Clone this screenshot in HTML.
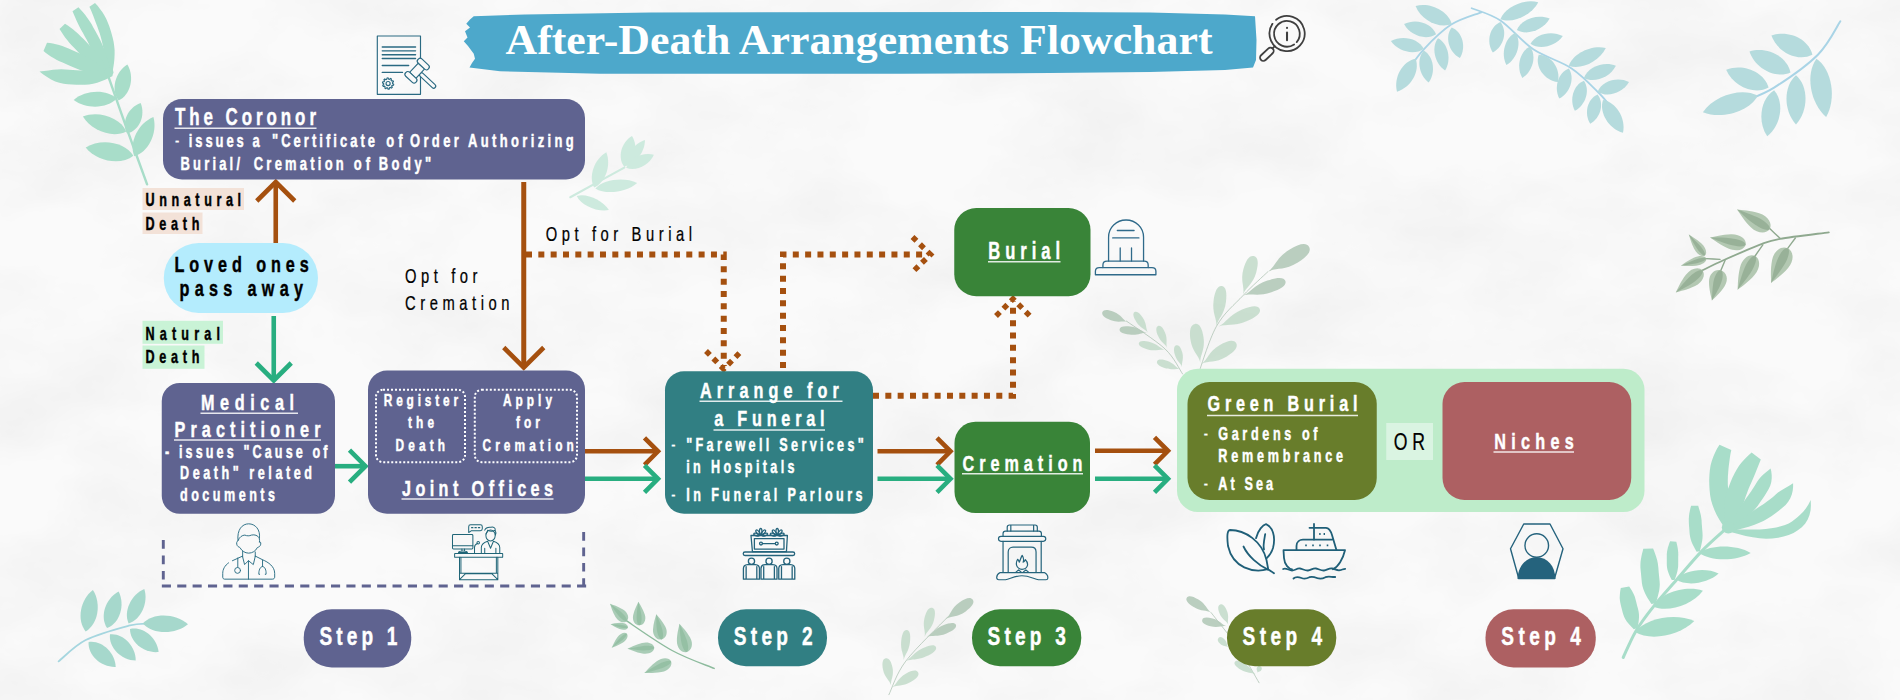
<!DOCTYPE html>
<html><head><meta charset="utf-8"><title>After-Death Arrangements Flowchart</title>
<style>
html,body{margin:0;padding:0;background:#f8f8f8;}
body{width:1900px;height:700px;overflow:hidden;font-family:"Liberation Sans",sans-serif;}
svg{display:block}
text{white-space:pre}
</style></head><body>
<svg width="1900" height="700" viewBox="0 0 1900 700">
<defs><filter id="paper" x="0" y="0" width="100%" height="100%" color-interpolation-filters="sRGB">
<feTurbulence type="fractalNoise" baseFrequency="0.007 0.011" numOctaves="5" seed="11"/>
<feColorMatrix type="matrix" values="0 0 0 0 0.92  0 0 0 0 0.92  0 0 0 0 0.92  1.1 0 0 0 -0.40"/>
</filter></defs>
<rect width="1900" height="700" fill="#fafafa"/>
<rect width="1900" height="700" filter="url(#paper)"/>
<path d="M107.1,72.9 C110.2,81.7 119.0,107.1 125.7,125.7 C132.4,144.3 143.6,174.5 147.1,184.3" fill="none" stroke="#a8ddc9" stroke-width="2.4" stroke-linecap="round" opacity="1.0"/>
<path d="M89.4,6.8 L90.9,10.1 L92.2,13.3 L93.5,16.6 L94.8,19.9 L96.0,23.2 L97.3,26.5 L98.5,29.9 L99.7,33.3 L100.7,36.8 L101.7,40.4 L102.5,44.0 L103.3,47.8 L104.2,51.5 L105.2,55.4 L106.2,59.4 L107.2,63.5 L108.2,67.7 L109.1,72.0 L112.5,72.0 L113.3,67.5 L114.0,63.1 L114.4,58.7 L114.6,54.4 L114.6,50.1 L114.2,45.9 L113.6,41.7 L112.7,37.7 L111.6,33.8 L110.5,29.9 L109.2,26.1 L107.8,22.4 L106.2,18.8 L104.3,15.3 L102.3,12.0 L100.0,8.9 L97.6,5.8 L95.0,3.0 Z" fill="#a8ddc9"/>
<path d="M72.5,11.2 L73.8,14.2 L75.1,17.3 L76.5,20.4 L77.9,23.5 L79.5,26.7 L81.2,29.9 L83.0,33.1 L84.8,36.4 L86.7,39.8 L88.5,43.3 L90.3,46.9 L92.3,50.5 L94.5,54.1 L96.8,57.7 L99.3,61.4 L101.9,65.1 L104.6,68.9 L107.3,72.7 L110.5,71.3 L109.4,66.6 L108.3,62.1 L107.0,57.7 L105.7,53.4 L104.3,49.3 L102.6,45.3 L100.9,41.5 L99.0,37.8 L97.1,34.2 L95.2,30.8 L93.3,27.4 L91.5,24.0 L89.5,20.9 L87.4,17.9 L85.3,15.0 L83.0,12.3 L80.7,9.7 L78.4,7.3 Z" fill="#a8ddc9"/>
<path d="M59.5,29.0 L61.3,31.8 L63.1,34.6 L65.1,37.4 L67.2,40.1 L69.3,42.8 L71.6,45.3 L74.1,47.8 L76.5,50.3 L79.0,52.9 L81.5,55.4 L84.0,58.0 L86.7,60.5 L89.5,62.8 L92.5,65.1 L95.6,67.2 L98.9,69.3 L102.2,71.3 L105.6,73.3 L108.3,70.6 L106.3,67.2 L104.3,63.9 L102.3,60.6 L100.1,57.5 L97.9,54.5 L95.6,51.6 L93.2,49.0 L90.7,46.4 L88.2,43.9 L85.7,41.3 L83.3,38.8 L80.8,36.4 L78.4,34.0 L75.8,31.8 L73.2,29.6 L70.5,27.6 L67.8,25.6 L65.0,23.7 Z" fill="#a8ddc9"/>
<path d="M43.5,51.1 L45.9,52.9 L48.3,54.7 L50.8,56.4 L53.5,58.1 L56.4,59.7 L59.4,61.2 L62.6,62.5 L65.9,64.0 L69.2,65.4 L72.7,67.0 L76.3,68.5 L80.0,70.0 L83.9,71.2 L88.0,72.4 L92.3,73.4 L96.8,74.3 L101.3,75.1 L106.0,76.0 L107.9,71.8 L104.1,68.9 L100.4,66.0 L96.8,63.3 L93.2,60.8 L89.6,58.5 L86.0,56.4 L82.4,54.6 L78.8,53.1 L75.3,51.5 L71.9,50.1 L68.6,48.6 L65.4,47.2 L62.3,46.0 L59.1,45.1 L56.0,44.3 L52.9,43.6 L50.0,43.1 L47.0,42.7 Z" fill="#a8ddc9"/>
<path d="M39.5,71.6 L43.3,74.4 L47.1,77.1 L51.1,79.4 L55.2,81.4 L59.3,82.8 L63.6,83.7 L67.9,84.2 L72.1,84.5 L76.4,84.7 L80.6,84.8 L84.8,84.7 L89.0,84.4 L93.2,83.7 L97.2,82.7 L101.2,81.3 L105.1,79.8 L108.9,78.0 L112.6,76.0 L111.6,71.8 L107.6,71.6 L103.6,71.3 L99.7,71.0 L95.8,70.7 L92.0,70.5 L88.2,70.3 L84.5,70.3 L80.7,70.4 L76.8,70.3 L73.0,70.1 L69.1,69.8 L65.3,69.5 L61.3,69.3 L57.2,69.4 L53.0,69.8 L48.6,70.4 L44.1,71.0 L39.5,71.6 Z" fill="#a8ddc9"/>
<ellipse cx="108.9" cy="72.2" rx="4.5" ry="4.5" fill="#a8ddc9"/>
<path d="M118.6,100.6 C130.5,95.1 134.9,77.1 127.4,64.6 C115.0,72.2 110.5,90.2 118.6,100.6Z" fill="#a8ddc9" opacity="1.0"/>
<path d="M127.1,133.4 C139.2,130.7 145.9,115.4 140.6,102.9 C127.7,107.4 121.0,122.7 127.1,133.4Z" fill="#a8ddc9" opacity="1.0"/>
<path d="M134.3,156.3 C148.4,152.5 157.9,132.9 153.4,117.1 C138.2,123.3 128.6,142.8 134.3,156.3Z" fill="#a8ddc9" opacity="1.0"/>
<path d="M116.6,98.6 C106.8,89.0 85.4,89.7 73.7,100.0 C86.0,109.5 107.5,108.8 116.6,98.6Z" fill="#a8ddc9" opacity="1.0"/>
<path d="M126.3,131.4 C120.3,117.8 98.6,110.3 82.9,116.6 C91.5,131.1 113.2,138.6 126.3,131.4Z" fill="#a8ddc9" opacity="1.0"/>
<path d="M133.4,155.7 C125.0,142.0 101.1,137.9 85.7,147.4 C97.0,161.6 120.9,165.8 133.4,155.7Z" fill="#a8ddc9" opacity="1.0"/>
<path d="M1725.7,528.9 C1721.7,532.6 1709.9,542.6 1701.8,551.1 C1693.6,559.5 1684.8,570.4 1676.8,579.6 C1668.8,588.9 1660.4,597.8 1653.6,606.4 C1646.7,615.1 1640.8,622.9 1635.7,631.4 C1630.7,639.9 1625.3,653.2 1623.2,657.5" fill="none" stroke="#a8ddc9" stroke-width="3" stroke-linecap="round" opacity="1.0"/>
<path d="M1719.5,444.7 L1717.1,448.6 L1715.0,452.7 L1713.2,456.9 L1711.7,461.3 L1710.5,465.8 L1709.8,470.5 L1709.4,475.2 L1709.2,480.0 L1709.3,484.9 L1709.6,489.9 L1710.1,494.9 L1711.0,499.9 L1712.5,505.0 L1714.4,509.9 L1716.7,514.9 L1719.4,519.8 L1722.4,524.6 L1725.7,529.4 L1730.9,527.4 L1730.3,521.9 L1730.0,516.5 L1729.7,511.3 L1729.4,506.3 L1729.2,501.6 L1728.9,497.0 L1728.5,492.6 L1728.1,488.4 L1727.8,484.3 L1727.8,480.2 L1727.9,476.3 L1728.2,472.4 L1728.5,468.6 L1728.9,464.9 L1729.4,461.2 L1729.9,457.4 L1730.5,453.7 L1731.3,450.0 Z" fill="#a8ddc9"/>
<path d="M1751.6,452.5 L1748.3,455.5 L1745.0,458.7 L1742.0,462.1 L1739.2,465.6 L1736.7,469.4 L1734.5,473.4 L1732.5,477.5 L1730.7,481.7 L1729.1,485.9 L1727.5,490.3 L1726.1,494.7 L1725.0,499.2 L1724.4,503.9 L1724.1,508.7 L1724.2,513.5 L1724.7,518.4 L1725.4,523.3 L1726.3,528.1 L1732.0,528.7 L1734.0,524.4 L1736.0,520.1 L1737.9,516.0 L1739.8,512.0 L1741.5,508.1 L1743.1,504.2 L1744.5,500.3 L1745.7,496.5 L1747.1,492.7 L1748.5,488.9 L1750.1,485.3 L1751.7,481.7 L1753.3,478.1 L1754.8,474.5 L1756.3,470.8 L1757.8,467.0 L1759.3,463.2 L1760.8,459.4 Z" fill="#a8ddc9"/>
<path d="M1770.6,468.4 L1768.2,470.5 L1765.7,472.5 L1763.3,474.6 L1761.0,476.8 L1758.9,479.3 L1757.0,482.0 L1755.2,484.9 L1753.3,488.0 L1751.2,491.2 L1748.9,494.4 L1746.5,497.8 L1744.1,501.3 L1741.6,505.1 L1739.1,509.1 L1736.6,513.3 L1734.0,517.7 L1731.3,522.3 L1728.5,527.1 L1731.5,529.8 L1736.0,526.4 L1740.2,523.1 L1744.2,519.7 L1748.0,516.4 L1751.5,512.9 L1754.7,509.5 L1757.6,505.9 L1760.1,502.3 L1762.6,498.8 L1764.8,495.4 L1766.9,492.1 L1768.8,488.8 L1770.3,485.4 L1771.3,482.0 L1771.7,478.5 L1771.7,475.0 L1771.3,471.6 L1770.6,468.4 Z" fill="#a8ddc9"/>
<path d="M1793.1,483.3 L1790.0,485.3 L1787.0,487.0 L1784.0,488.7 L1781.1,490.4 L1778.3,492.3 L1775.7,494.5 L1773.0,496.9 L1770.1,499.2 L1767.0,501.6 L1763.7,504.0 L1760.1,506.3 L1756.3,508.8 L1752.4,511.5 L1748.4,514.4 L1744.1,517.4 L1739.7,520.5 L1735.0,523.7 L1730.0,526.9 L1731.7,530.9 L1737.6,529.7 L1743.2,528.3 L1748.7,526.8 L1753.9,525.1 L1758.8,523.1 L1763.4,520.9 L1767.7,518.5 L1771.7,515.9 L1775.5,513.2 L1779.1,510.5 L1782.4,507.7 L1785.6,504.9 L1788.2,501.8 L1790.3,498.3 L1791.8,494.6 L1792.7,490.8 L1793.1,487.0 L1793.1,483.3 Z" fill="#a8ddc9"/>
<path d="M1810.7,500.1 L1808.4,504.6 L1805.8,508.4 L1803.2,511.7 L1800.4,514.5 L1797.7,517.0 L1794.9,519.3 L1792.0,521.5 L1788.7,523.4 L1785.0,525.0 L1780.8,526.3 L1776.2,527.4 L1771.2,528.2 L1765.7,528.9 L1759.8,529.4 L1753.4,529.6 L1746.4,529.6 L1739.0,529.4 L1731.2,528.8 L1730.5,531.9 L1738.3,534.1 L1745.7,535.9 L1752.8,537.3 L1759.6,538.3 L1766.1,538.7 L1772.3,538.5 L1778.1,537.8 L1783.6,536.6 L1788.7,534.9 L1793.5,532.9 L1797.8,530.3 L1801.8,527.3 L1805.1,523.8 L1807.7,519.6 L1809.5,515.1 L1810.6,510.3 L1810.9,505.3 L1810.7,500.1 Z" fill="#a8ddc9"/>
<ellipse cx="1728.3" cy="527.6" rx="6.5" ry="6" fill="#a8ddc9"/>
<path d="M1691.1,505.8 L1690.4,508.3 L1689.8,510.9 L1689.3,513.5 L1689.0,516.1 L1688.8,518.7 L1688.8,521.3 L1688.9,523.9 L1689.1,526.5 L1689.3,529.1 L1689.5,531.7 L1689.7,534.2 L1690.1,536.8 L1690.8,539.4 L1691.6,541.9 L1692.7,544.4 L1693.9,546.8 L1695.2,549.2 L1696.6,551.7 L1699.8,551.2 L1700.5,548.5 L1701.1,545.9 L1701.7,543.3 L1702.2,540.7 L1702.5,538.1 L1702.6,535.6 L1702.5,533.1 L1702.3,530.6 L1702.1,528.1 L1701.9,525.6 L1701.7,523.1 L1701.6,520.6 L1701.3,518.1 L1700.9,515.6 L1700.3,513.1 L1699.7,510.7 L1698.9,508.2 L1698.2,505.7 Z" fill="#a8ddc9"/>
<path d="M1670.1,541.2 L1669.3,543.3 L1668.6,545.5 L1667.9,547.6 L1667.4,549.8 L1667.0,552.0 L1666.8,554.1 L1666.8,556.3 L1666.8,558.5 L1666.8,560.7 L1666.8,562.9 L1666.8,565.1 L1667.0,567.3 L1667.4,569.5 L1668.0,571.6 L1668.8,573.8 L1669.7,575.9 L1670.7,578.0 L1671.8,580.1 L1674.6,579.9 L1675.4,577.7 L1676.2,575.5 L1676.8,573.4 L1677.4,571.2 L1677.8,569.1 L1678.1,567.0 L1678.2,564.9 L1678.2,562.8 L1678.2,560.7 L1678.2,558.6 L1678.2,556.5 L1678.3,554.4 L1678.2,552.3 L1678.0,550.2 L1677.7,548.1 L1677.3,546.0 L1676.8,543.8 L1676.3,541.7 Z" fill="#a8ddc9"/>
<path d="M1643.3,548.8 L1642.5,551.9 L1641.7,555.1 L1641.1,558.2 L1640.6,561.3 L1640.4,564.5 L1640.4,567.6 L1640.7,570.7 L1641.0,573.8 L1641.3,576.9 L1641.6,580.0 L1641.9,583.2 L1642.5,586.2 L1643.4,589.3 L1644.6,592.3 L1646.0,595.2 L1647.7,598.2 L1649.5,601.0 L1651.4,603.9 L1655.8,603.2 L1656.8,600.0 L1657.7,596.8 L1658.5,593.6 L1659.2,590.4 L1659.6,587.3 L1659.8,584.2 L1659.6,581.2 L1659.3,578.2 L1659.0,575.2 L1658.7,572.2 L1658.5,569.2 L1658.2,566.2 L1657.8,563.2 L1657.2,560.2 L1656.3,557.3 L1655.3,554.3 L1654.2,551.3 L1653.1,548.4 Z" fill="#a8ddc9"/>
<path d="M1620.8,587.9 L1620.3,590.4 L1620.0,592.9 L1619.8,595.4 L1619.7,597.9 L1619.9,600.3 L1620.3,602.7 L1620.8,605.1 L1621.4,607.5 L1622.0,609.8 L1622.6,612.2 L1623.3,614.5 L1624.1,616.8 L1625.2,619.1 L1626.6,621.2 L1628.2,623.3 L1630.0,625.3 L1631.9,627.3 L1633.8,629.2 L1637.6,628.0 L1638.0,625.3 L1638.5,622.6 L1638.8,620.0 L1639.0,617.5 L1639.0,615.1 L1638.8,612.7 L1638.4,610.4 L1637.8,608.1 L1637.2,605.9 L1636.6,603.6 L1636.1,601.4 L1635.5,599.2 L1634.9,597.0 L1634.0,594.8 L1633.0,592.7 L1631.8,590.6 L1630.5,588.5 L1629.2,586.4 Z" fill="#a8ddc9"/>
<path d="M1699.3,552.9 C1710.6,561.3 1736.3,561.3 1750.7,552.9 C1736.3,544.4 1710.6,544.4 1699.3,552.9Z" fill="#a8ddc9" opacity="1.0"/>
<path d="M1676.1,579.6 C1686.6,586.6 1707.9,583.6 1718.6,573.6 C1705.5,566.9 1684.2,570.0 1676.1,579.6Z" fill="#a8ddc9" opacity="1.0"/>
<path d="M1652.9,606.4 C1667.0,613.1 1692.0,605.3 1702.9,590.7 C1685.7,585.0 1660.7,592.8 1652.9,606.4Z" fill="#a8ddc9" opacity="1.0"/>
<path d="M1635.0,632.1 C1650.2,641.5 1679.9,635.9 1694.3,621.1 C1675.5,612.4 1645.8,618.0 1635.0,632.1Z" fill="#a8ddc9" opacity="1.0"/>
<path d="M570.3,197.2 C579.3,192.2 615.3,172.5 624.3,167.6" fill="none" stroke="#cdeade" stroke-width="2.2" stroke-linecap="round" opacity="1.0"/>
<path d="M624.3,166.9 C634.9,162.4 638.8,146.9 632.0,136.1 C621.0,142.5 617.1,157.9 624.3,166.9Z" fill="#cdeade" opacity="1.0"/>
<path d="M626.2,165.7 C635.8,164.0 645.2,151.1 644.9,139.9 C634.2,143.2 624.9,156.0 626.2,165.7Z" fill="#cdeade" opacity="1.0"/>
<path d="M626.2,167.8 C635.6,171.8 649.4,165.2 653.9,154.7 C642.9,151.6 629.1,158.1 626.2,167.8Z" fill="#cdeade" opacity="1.0"/>
<path d="M594.1,187.5 C605.4,182.7 611.5,165.1 606.3,152.2 C594.2,159.1 588.1,176.7 594.1,187.5Z" fill="#cdeade" opacity="1.0"/>
<path d="M595.4,188.4 C605.6,195.1 626.5,192.4 637.2,183.0 C624.4,176.6 603.5,179.3 595.4,188.4Z" fill="#cdeade" opacity="1.0"/>
<path d="M576.7,195.9 C581.1,205.2 597.1,212.3 608.9,210.0 C602.6,199.9 586.5,192.8 576.7,195.9Z" fill="#cdeade" opacity="1.0"/>
<path d="M58.6,661.4 C63.1,657.9 74.0,646.0 85.7,640.0 C97.4,634.0 118.1,628.5 128.6,625.7 C139.0,623.0 145.2,623.8 148.6,623.4" fill="none" stroke="#a5d6df" stroke-width="1.8" stroke-linecap="round" opacity="1.0"/>
<path d="M85.7,631.4 C98.1,624.2 101.7,603.5 92.9,590.0 C80.0,599.7 76.5,620.4 85.7,631.4Z" fill="#a6d8cc" opacity="1.0"/>
<path d="M107.1,628.0 C119.8,623.1 125.5,604.8 118.6,591.4 C105.2,598.5 99.5,616.8 107.1,628.0Z" fill="#a6d8cc" opacity="1.0"/>
<path d="M128.6,623.4 C140.9,619.9 148.7,602.8 144.3,589.1 C131.0,594.7 123.2,611.8 128.6,623.4Z" fill="#a6d8cc" opacity="1.0"/>
<path d="M142.9,623.4 C152.6,634.6 175.2,635.0 188.0,624.3 C175.6,613.1 153.0,612.6 142.9,623.4Z" fill="#a6d8cc" opacity="1.0"/>
<path d="M130.0,629.1 C129.9,642.2 144.2,653.6 158.6,652.0 C157.0,637.6 142.7,626.1 130.0,629.1Z" fill="#a6d8cc" opacity="1.0"/>
<path d="M110.0,634.3 C108.3,647.3 121.2,660.4 135.7,660.6 C135.9,646.0 123.0,632.9 110.0,634.3Z" fill="#a6d8cc" opacity="1.0"/>
<path d="M88.6,642.0 C87.6,655.0 101.2,667.5 115.7,666.9 C115.1,652.3 101.5,639.9 88.6,642.0Z" fill="#a6d8cc" opacity="1.0"/>
<path d="M1481.3,12.3 C1476.2,14.4 1460.7,18.5 1451.2,24.6 C1441.6,30.8 1431.1,41.5 1423.8,49.3 C1416.5,57.0 1410.1,67.5 1407.4,71.2" fill="none" stroke="#a9d4e6" stroke-width="1.8" stroke-linecap="round" opacity="1.0"/>
<path d="M1451.7,24.1 C1448.3,11.0 1430.2,2.0 1415.6,6.0 C1421.1,20.2 1439.2,29.2 1451.7,24.1Z" fill="#b5dbdd" opacity="1.0"/>
<path d="M1436.1,34.2 C1431.9,23.1 1415.9,18.0 1404.1,24.1 C1410.2,35.8 1426.2,40.9 1436.1,34.2Z" fill="#b5dbdd" opacity="1.0"/>
<path d="M1423.8,48.7 C1418.6,38.4 1402.1,34.6 1390.9,41.1 C1398.1,51.8 1414.6,55.6 1423.8,48.7Z" fill="#b5dbdd" opacity="1.0"/>
<path d="M1451.7,27.4 C1444.5,36.5 1448.6,51.9 1459.9,58.0 C1466.6,47.0 1462.5,31.7 1451.7,27.4Z" fill="#b5dbdd" opacity="1.0"/>
<path d="M1438.0,38.3 C1431.0,47.3 1434.5,63.5 1445.1,70.6 C1451.8,59.7 1448.2,43.5 1438.0,38.3Z" fill="#b5dbdd" opacity="1.0"/>
<path d="M1423.8,50.6 C1416.2,59.0 1418.6,75.0 1428.7,82.6 C1436.1,72.3 1433.6,56.3 1423.8,50.6Z" fill="#b5dbdd" opacity="1.0"/>
<path d="M1415.6,58.8 C1402.6,61.0 1393.3,77.5 1397.0,91.7 C1411.0,87.5 1420.3,71.1 1415.6,58.8Z" fill="#b5dbdd" opacity="1.0"/>
<path d="M1471.7,8.2 C1476.5,10.3 1490.2,13.7 1500.4,20.5 C1510.7,27.4 1521.4,41.3 1533.3,49.3 C1545.1,57.2 1560.6,61.1 1571.6,68.4 C1582.5,75.7 1592.1,86.2 1598.9,93.0 C1605.8,99.9 1610.3,106.7 1612.6,109.5" fill="none" stroke="#a9d4e6" stroke-width="1.8" stroke-linecap="round" opacity="1.0"/>
<path d="M1500.4,19.2 C1512.5,23.9 1531.4,15.5 1538.2,2.2 C1523.8,-1.6 1504.9,6.9 1500.4,19.2Z" fill="#b5dbdd" opacity="1.0"/>
<path d="M1516.8,30.1 C1527.0,35.9 1543.4,30.2 1549.7,18.6 C1537.6,13.5 1521.1,19.2 1516.8,30.1Z" fill="#b5dbdd" opacity="1.0"/>
<path d="M1530.5,43.8 C1539.6,50.4 1555.7,46.5 1562.8,36.1 C1551.8,30.0 1535.7,33.8 1530.5,43.8Z" fill="#b5dbdd" opacity="1.0"/>
<path d="M1568.8,65.7 C1581.0,70.2 1599.5,61.3 1605.8,47.9 C1591.4,44.5 1572.9,53.4 1568.8,65.7Z" fill="#b5dbdd" opacity="1.0"/>
<path d="M1583.9,78.0 C1594.1,83.5 1610.1,77.4 1615.9,65.7 C1603.8,60.9 1587.8,67.1 1583.9,78.0Z" fill="#b5dbdd" opacity="1.0"/>
<path d="M1597.6,91.7 C1607.1,98.0 1622.8,93.2 1629.0,82.1 C1617.7,76.3 1601.9,81.1 1597.6,91.7Z" fill="#b5dbdd" opacity="1.0"/>
<path d="M1500.4,21.9 C1489.7,26.4 1485.8,41.7 1492.8,52.5 C1504.0,46.2 1507.8,30.9 1500.4,21.9Z" fill="#b5dbdd" opacity="1.0"/>
<path d="M1515.5,32.8 C1505.0,37.6 1500.5,53.7 1506.4,65.1 C1517.5,58.5 1522.0,42.3 1515.5,32.8Z" fill="#b5dbdd" opacity="1.0"/>
<path d="M1530.0,46.5 C1519.7,51.4 1515.9,67.1 1522.3,78.0 C1533.0,71.3 1536.9,55.5 1530.0,46.5Z" fill="#b5dbdd" opacity="1.0"/>
<path d="M1538.7,54.7 C1534.6,66.6 1544.2,80.3 1557.9,82.1 C1560.9,68.6 1551.3,54.9 1538.7,54.7Z" fill="#b5dbdd" opacity="1.0"/>
<path d="M1568.8,68.4 C1558.3,72.4 1553.5,87.4 1559.3,98.5 C1570.3,92.8 1575.1,77.7 1568.8,68.4Z" fill="#b5dbdd" opacity="1.0"/>
<path d="M1583.9,80.7 C1573.4,84.8 1568.9,99.9 1574.9,110.8 C1585.8,104.9 1590.4,89.9 1583.9,80.7Z" fill="#b5dbdd" opacity="1.0"/>
<path d="M1597.6,94.4 C1587.4,98.7 1583.7,113.3 1590.2,123.7 C1600.8,117.7 1604.5,103.0 1597.6,94.4Z" fill="#b5dbdd" opacity="1.0"/>
<path d="M1603.0,99.9 C1598.7,112.4 1608.7,128.8 1623.0,132.7 C1626.1,118.2 1616.1,101.8 1603.0,99.9Z" fill="#b5dbdd" opacity="1.0"/>
<path d="M1840.3,21.3 C1836.6,26.9 1828.9,43.7 1817.9,54.7 C1806.8,65.8 1786.4,79.8 1774.1,87.6 C1761.8,95.3 1749.0,99.0 1744.0,101.3" fill="none" stroke="#a9d4e6" stroke-width="2.0" stroke-linecap="round" opacity="1.0"/>
<path d="M1812.4,54.7 C1808.8,39.0 1788.2,29.4 1771.4,35.6 C1777.5,52.5 1798.0,62.1 1812.4,54.7Z" fill="#b5dbdd" opacity="1.0"/>
<path d="M1790.5,72.5 C1787.3,56.6 1766.8,46.0 1749.5,51.5 C1755.1,68.7 1775.7,79.2 1790.5,72.5Z" fill="#b5dbdd" opacity="1.0"/>
<path d="M1768.6,87.6 C1764.2,71.9 1743.0,63.0 1726.2,69.8 C1733.2,86.5 1754.4,95.4 1768.6,87.6Z" fill="#b5dbdd" opacity="1.0"/>
<path d="M1757.7,95.8 C1742.0,87.2 1714.6,95.4 1702.9,112.2 C1721.9,119.8 1749.3,111.6 1757.7,95.8Z" fill="#b5dbdd" opacity="1.0"/>
<path d="M1816.5,58.8 C1805.2,73.9 1810.0,103.0 1826.1,117.1 C1836.8,98.6 1832.0,69.5 1816.5,58.8Z" fill="#b5dbdd" opacity="1.0"/>
<path d="M1796.0,75.3 C1783.3,86.1 1783.3,110.7 1796.0,124.5 C1808.7,110.7 1808.7,86.1 1796.0,75.3Z" fill="#b5dbdd" opacity="1.0"/>
<path d="M1774.1,90.3 C1760.5,98.6 1757.1,121.6 1767.2,136.3 C1781.2,125.2 1784.7,102.2 1774.1,90.3Z" fill="#b5dbdd" opacity="1.0"/>
<path d="M1828.8,232.3 C1820.7,233.4 1791.5,236.8 1780.0,238.8 C1768.4,240.9 1768.8,241.3 1759.4,244.8 C1750.0,248.4 1733.0,256.0 1723.4,260.3 C1713.8,264.6 1705.6,268.8 1702.0,270.5" fill="none" stroke="#8fa98f" stroke-width="1.8" stroke-linecap="round" opacity="1.0"/>
<path d="M1780.0,238.3 C1778.3,236.7 1771.4,230.2 1769.7,228.6" fill="none" stroke="#8fa98f" stroke-width="1.4" stroke-linecap="round" opacity="1.0"/>
<path d="M1795.4,238.0 C1794.1,239.7 1789.0,246.6 1787.7,248.3" fill="none" stroke="#8fa98f" stroke-width="1.4" stroke-linecap="round" opacity="1.0"/>
<path d="M1762.8,244.8 C1761.5,246.7 1756.4,254.1 1755.1,256.0" fill="none" stroke="#8fa98f" stroke-width="1.4" stroke-linecap="round" opacity="1.0"/>
<path d="M1725.1,260.3 C1724.4,262.0 1721.6,268.8 1720.8,270.5" fill="none" stroke="#8fa98f" stroke-width="1.4" stroke-linecap="round" opacity="1.0"/>
<path d="M1720.0,259.4 C1717.7,259.3 1708.6,258.7 1706.3,258.6" fill="none" stroke="#8fa98f" stroke-width="1.4" stroke-linecap="round" opacity="1.0"/>
<path d="M1769.7,229.1 C1772.7,224.1 1768.6,216.2 1759.2,213.2 C1749.9,210.3 1742.0,210.1 1737.1,209.4 C1740.0,213.4 1743.9,220.3 1750.8,227.2 C1757.8,234.0 1766.6,234.1 1769.7,229.1Z" fill="#b3c8b2" opacity="1.0"/>
<path d="M1769.7,229.1 C1771.0,226.8 1765.6,221.1 1756.9,217.1 C1748.3,213.0 1741.5,211.0 1737.1,209.4 C1740.6,212.5 1745.5,217.5 1753.1,223.3 C1760.7,229.1 1768.3,231.3 1769.7,229.1Z" fill="#8fa98f" opacity="0.75"/>
<path d="M1745.7,244.5 C1746.7,239.3 1740.3,234.0 1731.0,234.3 C1721.7,234.6 1714.7,236.7 1710.0,237.6 C1714.0,240.2 1719.7,244.8 1728.3,248.6 C1736.8,252.3 1744.7,249.6 1745.7,244.5Z" fill="#b3c8b2" opacity="1.0"/>
<path d="M1745.7,244.5 C1746.1,242.2 1739.4,239.0 1730.3,238.2 C1721.2,237.4 1714.5,237.7 1710.0,237.6 C1714.2,239.2 1720.3,242.0 1729.0,244.6 C1737.8,247.2 1745.2,246.8 1745.7,244.5Z" fill="#8fa98f" opacity="0.75"/>
<path d="M1704.9,255.5 C1707.4,253.5 1706.2,247.8 1701.2,243.3 C1696.2,238.9 1691.6,236.4 1688.8,234.6 C1689.9,237.7 1691.1,242.8 1694.1,248.8 C1697.2,254.8 1702.4,257.4 1704.9,255.5Z" fill="#b3c8b2" opacity="1.0"/>
<path d="M1704.9,255.5 C1706.0,254.6 1703.7,249.7 1699.2,244.8 C1694.8,240.0 1691.1,236.8 1688.8,234.6 C1690.3,237.4 1692.5,241.7 1696.1,247.3 C1699.6,252.9 1703.8,256.3 1704.9,255.5Z" fill="#8fa98f" opacity="0.75"/>
<path d="M1706.3,258.6 C1705.5,255.7 1699.8,254.9 1693.7,257.8 C1687.7,260.7 1683.7,263.9 1680.9,265.7 C1684.2,265.8 1689.3,266.4 1696.0,265.7 C1702.6,265.1 1707.1,261.4 1706.3,258.6Z" fill="#b3c8b2" opacity="1.0"/>
<path d="M1706.3,258.6 C1705.9,257.3 1700.6,257.7 1694.4,260.0 C1688.2,262.3 1683.8,264.5 1680.9,265.7 C1684.1,265.3 1688.9,264.9 1695.4,263.6 C1701.8,262.3 1706.6,259.8 1706.3,258.6Z" fill="#8fa98f" opacity="0.75"/>
<path d="M1702.5,270.5 C1699.2,266.5 1691.2,267.7 1685.9,274.8 C1680.5,281.8 1677.9,288.5 1675.8,292.5 C1680.1,291.2 1687.1,290.0 1695.1,286.1 C1703.1,282.1 1705.8,274.6 1702.5,270.5Z" fill="#b3c8b2" opacity="1.0"/>
<path d="M1702.5,270.5 C1701.0,268.7 1694.5,271.7 1688.4,277.9 C1682.3,284.1 1678.5,289.2 1675.8,292.5 C1679.5,290.5 1685.3,287.7 1692.6,283.0 C1699.8,278.2 1704.0,272.4 1702.5,270.5Z" fill="#8fa98f" opacity="0.75"/>
<path d="M1720.8,270.2 C1715.2,268.6 1709.1,273.3 1709.0,281.6 C1709.0,289.8 1711.1,296.3 1711.9,300.5 C1714.9,297.5 1720.2,293.1 1724.6,286.2 C1729.1,279.2 1726.5,271.9 1720.8,270.2Z" fill="#b3c8b2" opacity="1.0"/>
<path d="M1720.8,270.2 C1718.3,269.5 1714.6,275.0 1713.3,282.8 C1712.1,290.7 1712.2,296.7 1711.9,300.5 C1713.8,297.1 1717.1,292.2 1720.3,284.9 C1723.6,277.6 1723.4,270.9 1720.8,270.2Z" fill="#8fa98f" opacity="0.75"/>
<path d="M1755.1,256.0 C1749.9,253.3 1742.4,257.9 1740.0,267.4 C1737.7,276.9 1738.0,284.8 1737.6,289.7 C1741.5,286.6 1748.1,282.3 1754.5,274.9 C1760.9,267.5 1760.3,258.7 1755.1,256.0Z" fill="#b3c8b2" opacity="1.0"/>
<path d="M1755.1,256.0 C1752.8,254.8 1747.5,260.6 1744.0,269.5 C1740.5,278.4 1739.0,285.3 1737.6,289.7 C1740.5,286.1 1745.2,280.8 1750.5,272.9 C1755.8,264.9 1757.5,257.2 1755.1,256.0Z" fill="#8fa98f" opacity="0.75"/>
<path d="M1787.7,248.3 C1781.8,245.5 1774.0,250.2 1772.1,260.0 C1770.2,269.7 1771.1,277.8 1771.1,282.9 C1775.0,279.7 1781.9,275.3 1788.3,267.7 C1794.7,260.2 1793.5,251.1 1787.7,248.3Z" fill="#b3c8b2" opacity="1.0"/>
<path d="M1787.7,248.3 C1785.0,247.0 1779.7,252.9 1776.5,262.1 C1773.4,271.2 1772.2,278.3 1771.1,282.9 C1773.9,279.2 1778.7,273.8 1783.8,265.6 C1789.0,257.4 1790.3,249.5 1787.7,248.3Z" fill="#8fa98f" opacity="0.75"/>
<path d="M1197.1,377.8 C1200.3,369.3 1208.7,340.2 1216.4,326.4 C1224.1,312.7 1234.6,304.5 1243.2,295.4 C1251.8,286.2 1263.7,275.7 1267.8,271.8" fill="none" stroke="#a9bfae" stroke-width="0.8" stroke-linecap="round" opacity="0.9"/>
<path d="M1267.8,271.8 C1276.4,267.3 1284.2,270.8 1297.4,262.8 C1307.2,256.8 1311.7,251.2 1309.0,246.7 C1306.3,242.2 1299.2,243.6 1289.3,249.7 C1276.2,257.7 1275.8,266.2 1267.8,271.8Z" fill="#b2c9b8" opacity="0.9"/>
<path d="M1243.2,295.4 C1251.8,293.0 1257.9,296.9 1271.4,292.3 C1281.5,288.9 1286.8,285.0 1285.4,281.0 C1284.1,277.0 1277.5,277.1 1267.4,280.6 C1253.9,285.2 1251.5,292.0 1243.2,295.4Z" fill="#b2c9b8" opacity="0.9"/>
<path d="M1243.2,294.3 C1245.9,286.8 1252.8,284.6 1256.2,272.4 C1258.8,263.3 1258.3,257.4 1253.9,256.1 C1249.6,254.9 1246.0,259.7 1243.5,268.8 C1240.0,281.0 1244.8,286.5 1243.2,294.3Z" fill="#c4dccb" opacity="0.9"/>
<path d="M1218.6,326.4 C1227.0,323.4 1233.3,326.9 1246.5,321.2 C1256.4,317.0 1261.4,312.7 1259.7,308.9 C1258.0,305.0 1251.5,305.6 1241.6,309.8 C1228.5,315.4 1226.6,322.5 1218.6,326.4Z" fill="#c4dccb" opacity="0.9"/>
<path d="M1216.4,326.4 C1218.0,318.4 1224.2,315.2 1225.9,302.3 C1227.2,292.6 1226.0,286.7 1221.8,286.1 C1217.6,285.6 1214.9,291.0 1213.6,300.6 C1211.9,313.5 1217.0,318.3 1216.4,326.4Z" fill="#c4dccb" opacity="0.9"/>
<path d="M1201.4,363.9 C1208.6,360.2 1215.2,363.4 1226.4,356.7 C1234.7,351.7 1238.5,347.0 1236.1,343.1 C1233.8,339.3 1227.9,340.3 1219.5,345.3 C1208.4,352.0 1208.1,359.3 1201.4,363.9Z" fill="#c4dccb" opacity="0.9"/>
<path d="M1200.3,362.8 C1199.8,355.0 1205.3,350.2 1203.6,337.8 C1202.3,328.4 1199.5,323.2 1195.0,323.9 C1190.5,324.5 1189.2,330.2 1190.4,339.6 C1192.2,352.1 1198.8,355.1 1200.3,362.8Z" fill="#c4dccb" opacity="0.9"/>
<path d="M1182.6,374.0 C1179.6,369.8 1174.4,357.7 1165.0,348.9 C1155.6,340.1 1132.9,325.7 1126.4,321.1" fill="none" stroke="#a9bfae" stroke-width="0.8" stroke-linecap="round" opacity="0.9"/>
<path d="M1127.5,322.1 C1122.6,319.8 1121.7,314.9 1113.6,311.7 C1107.6,309.3 1103.6,309.2 1102.4,312.1 C1101.3,314.9 1104.3,317.7 1110.3,320.1 C1118.3,323.3 1122.3,320.5 1127.5,322.1Z" fill="#b2c9b8" opacity="0.9"/>
<path d="M1146.8,332.8 C1141.4,331.8 1139.2,327.7 1130.5,326.6 C1123.9,325.7 1119.9,326.5 1119.6,329.2 C1119.2,332.0 1122.8,333.8 1129.4,334.6 C1138.1,335.8 1141.3,332.4 1146.8,332.8Z" fill="#b2c9b8" opacity="0.9"/>
<path d="M1147.9,332.4 C1145.5,328.2 1147.1,324.2 1142.8,317.7 C1139.7,312.8 1136.8,310.6 1134.6,312.1 C1132.4,313.5 1133.2,317.0 1136.4,321.9 C1140.6,328.4 1144.9,328.5 1147.9,332.4Z" fill="#c4dccb" opacity="0.9"/>
<path d="M1165.0,350.0 C1159.8,348.3 1158.1,344.2 1149.8,342.0 C1143.5,340.4 1139.5,340.6 1138.9,343.1 C1138.2,345.7 1141.5,347.8 1147.8,349.5 C1156.2,351.7 1159.7,348.9 1165.0,350.0Z" fill="#c4dccb" opacity="0.9"/>
<path d="M1167.1,347.8 C1165.6,343.4 1168.0,339.8 1165.1,332.8 C1163.0,327.6 1160.6,325.0 1158.1,326.0 C1155.7,327.0 1155.8,330.5 1158.0,335.8 C1160.9,342.8 1165.1,343.6 1167.1,347.8Z" fill="#c4dccb" opacity="0.9"/>
<path d="M1180.0,369.3 C1175.5,367.4 1174.4,363.3 1167.0,360.7 C1161.5,358.8 1157.9,358.9 1157.1,361.3 C1156.2,363.8 1159.0,366.1 1164.5,368.0 C1171.9,370.5 1175.3,368.0 1180.0,369.3Z" fill="#c4dccb" opacity="0.9"/>
<path d="M1182.1,367.1 C1181.3,362.7 1184.1,359.6 1182.3,352.6 C1180.9,347.4 1178.9,344.6 1176.4,345.3 C1173.8,345.9 1173.4,349.3 1174.8,354.6 C1176.7,361.6 1180.7,362.8 1182.1,367.1Z" fill="#c4dccb" opacity="0.9"/>
<path d="M714.2,668.4 C707.2,665.4 687.2,658.8 672.1,650.5 C657.0,642.3 631.8,624.2 623.7,618.9" fill="none" stroke="#8dbb9d" stroke-width="1.4" stroke-linecap="round" opacity="1.0"/>
<path d="M626.8,621.1 C629.6,618.4 628.3,612.9 623.0,609.6 C617.8,606.3 612.9,605.0 610.0,603.8 C611.1,606.7 612.3,611.6 615.5,617.0 C618.7,622.3 624.1,623.7 626.8,621.1Z" fill="#a9ccb6" opacity="1.0"/>
<path d="M626.8,621.1 C627.9,620.0 625.4,615.7 620.8,611.8 C616.1,607.9 612.4,605.5 610.0,603.8 C611.7,606.2 614.0,610.0 617.8,614.8 C621.5,619.5 625.8,622.1 626.8,621.1Z" fill="#8dbb9d" opacity="0.7"/>
<path d="M639.5,625.3 C643.6,625.1 646.7,620.2 644.8,614.4 C642.9,608.6 639.9,604.5 638.4,601.7 C637.2,604.6 634.6,608.9 633.2,614.9 C631.9,620.9 635.3,625.4 639.5,625.3Z" fill="#a9ccb6" opacity="1.0"/>
<path d="M639.5,625.3 C641.1,625.2 642.2,620.4 641.3,614.5 C640.4,608.7 639.1,604.5 638.4,601.7 C638.0,604.5 637.1,608.8 636.7,614.8 C636.3,620.7 637.8,625.3 639.5,625.3Z" fill="#8dbb9d" opacity="0.7"/>
<path d="M661.6,639.4 C666.0,638.4 668.4,632.7 665.4,626.8 C662.3,620.9 658.4,617.0 656.3,614.3 C655.5,617.6 653.4,622.8 653.0,629.4 C652.6,636.0 657.1,640.3 661.6,639.4Z" fill="#a9ccb6" opacity="1.0"/>
<path d="M661.6,639.4 C663.4,639.0 663.7,633.7 661.7,627.6 C659.7,621.5 657.5,617.2 656.3,614.3 C656.4,617.4 656.1,622.2 656.7,628.6 C657.4,635.0 659.8,639.7 661.6,639.4Z" fill="#8dbb9d" opacity="0.7"/>
<path d="M686.8,652.0 C691.6,650.8 693.8,644.1 690.1,637.6 C686.5,631.0 681.9,626.8 679.5,623.8 C678.8,627.6 676.9,633.5 676.9,641.0 C676.9,648.6 682.1,653.2 686.8,652.0Z" fill="#a9ccb6" opacity="1.0"/>
<path d="M686.8,652.0 C688.7,651.5 688.8,645.5 686.2,638.6 C683.6,631.8 681.0,627.0 679.5,623.8 C679.7,627.3 679.8,632.8 680.9,640.0 C682.0,647.2 684.9,652.5 686.8,652.0Z" fill="#8dbb9d" opacity="0.7"/>
<path d="M627.9,627.4 C628.3,625.1 625.2,622.8 620.7,622.8 C616.2,622.9 612.8,623.8 610.6,624.2 C612.6,625.3 615.4,627.4 619.6,629.1 C623.7,630.7 627.5,629.6 627.9,627.4Z" fill="#a9ccb6" opacity="1.0"/>
<path d="M627.9,627.4 C628.1,626.5 624.7,625.1 620.4,624.7 C616.0,624.3 612.8,624.3 610.6,624.2 C612.6,624.9 615.6,626.1 619.9,627.2 C624.2,628.3 627.7,628.3 627.9,627.4Z" fill="#8dbb9d" opacity="0.7"/>
<path d="M626.8,633.7 C625.0,631.7 620.5,633.0 617.4,637.3 C614.4,641.6 612.9,645.4 611.7,647.8 C614.1,646.8 618.1,645.6 622.6,642.8 C627.1,640.1 628.7,635.7 626.8,633.7Z" fill="#a9ccb6" opacity="1.0"/>
<path d="M626.8,633.7 C626.1,632.9 622.5,635.1 619.0,638.9 C615.5,642.8 613.3,645.8 611.7,647.8 C613.8,646.4 617.0,644.4 621.1,641.1 C625.1,637.9 627.6,634.5 626.8,633.7Z" fill="#8dbb9d" opacity="0.7"/>
<path d="M654.2,647.8 C654.1,644.0 648.6,641.3 642.0,643.0 C635.3,644.7 630.6,647.5 627.5,648.8 C630.7,650.0 635.6,652.3 642.4,653.5 C649.1,654.7 654.4,651.6 654.2,647.8Z" fill="#a9ccb6" opacity="1.0"/>
<path d="M654.2,647.8 C654.2,646.3 648.8,645.3 642.1,646.2 C635.4,647.0 630.7,648.2 627.5,648.8 C630.7,649.2 635.6,650.0 642.3,650.4 C649.0,650.7 654.3,649.3 654.2,647.8Z" fill="#8dbb9d" opacity="0.7"/>
<path d="M671.1,661.5 C669.4,657.6 662.7,656.9 656.7,661.3 C650.7,665.7 647.0,670.4 644.3,673.1 C648.1,673.0 654.0,673.5 661.4,672.1 C668.7,670.7 672.7,665.4 671.1,661.5Z" fill="#a9ccb6" opacity="1.0"/>
<path d="M671.1,661.5 C670.4,659.9 664.5,661.0 658.1,664.5 C651.7,668.0 647.3,671.1 644.3,673.1 C647.7,672.2 653.0,671.1 660.0,668.8 C666.9,666.6 671.7,663.0 671.1,661.5Z" fill="#8dbb9d" opacity="0.7"/>
<path d="M888.9,694.7 C891.8,689.1 896.0,674.0 905.8,661.1 C915.6,648.1 940.9,624.2 947.9,616.8" fill="none" stroke="#a9bfae" stroke-width="0.8" stroke-linecap="round" opacity="0.9"/>
<path d="M945.8,618.9 C951.4,615.4 957.1,617.6 965.7,611.4 C972.2,606.7 974.9,602.6 972.7,599.6 C970.6,596.6 965.8,597.8 959.3,602.5 C950.7,608.7 950.9,614.7 945.8,618.9Z" fill="#b2c9b8" opacity="0.9"/>
<path d="M926.8,636.8 C932.8,634.8 937.2,637.3 946.5,633.5 C953.5,630.6 957.0,627.6 955.9,624.8 C954.7,622.1 950.1,622.4 943.2,625.3 C933.9,629.2 932.5,634.1 926.8,636.8Z" fill="#b2c9b8" opacity="0.9"/>
<path d="M924.7,636.8 C926.6,631.1 931.6,629.3 934.0,620.0 C935.8,613.0 935.3,608.6 932.1,607.8 C928.9,607.0 926.4,610.7 924.6,617.6 C922.3,626.9 925.8,630.9 924.7,636.8Z" fill="#c4dccb" opacity="0.9"/>
<path d="M905.8,661.1 C912.0,658.6 916.7,660.8 926.3,656.3 C933.6,652.9 937.2,649.7 935.9,646.9 C934.6,644.2 929.8,644.9 922.6,648.3 C912.9,652.8 911.7,657.9 905.8,661.1Z" fill="#c4dccb" opacity="0.9"/>
<path d="M903.7,660.0 C904.7,654.1 909.0,651.5 910.0,641.9 C910.8,634.8 909.8,630.4 906.8,630.1 C903.9,629.8 902.0,633.8 901.2,641.0 C900.2,650.6 904.0,654.0 903.7,660.0Z" fill="#c4dccb" opacity="0.9"/>
<path d="M892.1,687.4 C897.5,684.7 902.3,687.0 910.6,682.1 C916.8,678.5 919.7,675.1 918.0,672.2 C916.3,669.4 911.9,670.2 905.7,673.8 C897.4,678.6 897.1,684.0 892.1,687.4Z" fill="#c4dccb" opacity="0.9"/>
<path d="M891.1,685.3 C890.4,679.8 894.2,676.3 892.5,667.6 C891.3,661.2 889.0,657.7 885.8,658.3 C882.6,658.9 881.8,663.0 883.0,669.5 C884.7,678.1 889.6,679.9 891.1,685.3Z" fill="#c4dccb" opacity="0.9"/>
<path d="M1259.1,682.8 C1255.7,677.1 1246.5,660.3 1238.6,648.6 C1230.6,636.8 1215.7,618.6 1211.1,612.6" fill="none" stroke="#a9bfae" stroke-width="0.8" stroke-linecap="round" opacity="0.9"/>
<path d="M1211.1,612.6 C1206.5,609.3 1206.2,604.3 1198.4,599.5 C1192.5,595.9 1188.4,595.1 1186.8,597.7 C1185.2,600.2 1187.9,603.5 1193.7,607.1 C1201.5,611.9 1206.1,609.9 1211.1,612.6Z" fill="#b2c9b8" opacity="0.9"/>
<path d="M1226.6,626.3 C1221.8,624.7 1220.2,620.6 1212.5,618.5 C1206.6,617.0 1202.9,617.3 1202.2,619.9 C1201.5,622.5 1204.6,624.6 1210.5,626.2 C1218.3,628.2 1221.6,625.3 1226.6,626.3Z" fill="#b2c9b8" opacity="0.9"/>
<path d="M1228.3,624.6 C1227.0,620.4 1229.5,617.1 1226.9,610.7 C1225.0,605.8 1222.7,603.5 1220.2,604.5 C1217.7,605.5 1217.7,608.8 1219.6,613.6 C1222.2,620.0 1226.4,620.7 1228.3,624.6Z" fill="#c4dccb" opacity="0.9"/>
<path d="M1228.3,647.2 C1226.5,645.2 1227.5,642.2 1224.3,639.2 C1222.0,637.0 1219.9,636.4 1218.5,637.9 C1217.1,639.4 1217.7,641.5 1220.1,643.7 C1223.2,646.6 1226.1,645.5 1228.3,647.2Z" fill="#c4dccb" opacity="0.9"/>
<path d="M1255.7,674.3 C1251.7,671.5 1251.2,667.5 1244.6,663.5 C1239.5,660.5 1236.0,659.8 1234.8,661.9 C1233.5,664.0 1235.9,666.7 1240.9,669.7 C1247.6,673.7 1251.4,672.0 1255.7,674.3Z" fill="#c4dccb" opacity="0.9"/>
<path d="M1257.4,672.5 C1258.2,671.4 1260.6,671.7 1261.5,669.7 C1262.2,668.2 1261.9,666.9 1260.3,666.2 C1258.7,665.5 1257.6,666.0 1256.9,667.5 C1255.9,669.6 1257.8,671.2 1257.4,672.5Z" fill="#c4dccb" opacity="0.9"/>
<path d="M473.75,16.25 L525,14.5 L650,12.5 L1050,12 L1150,12.5 L1225,14.5 L1255,16.25 L1256.5,40 L1256,60 L1253,67.5 L1225,70 L1150,72 L1050,73 L900,73.75 L600,73.75 L500,71.25 L469.5,67.5 L472,63 L475,58.75 L473.75,53.75 L468,46 L463.75,41.25 L467.5,37.5 L465,31.25 L470,27.5 L466.25,23.75 L470,19.5 Z" fill="#4da8cb"/>
<text x="505.5" y="53.8" font-family="Liberation Serif" font-weight="bold" font-size="42.5" fill="#fff" textLength="707" lengthAdjust="spacingAndGlyphs">After-Death Arrangements Flowchart</text>
<path d="M275.75,244 L275.75,183" fill="none" stroke="#a5500f" stroke-width="4.6" stroke-linejoin="miter" stroke-linecap="butt"/>
<path d="M256.75,201 L275.75,182 L294.75,201" fill="none" stroke="#a5500f" stroke-width="4.6" stroke-linejoin="miter" stroke-linecap="butt"/>
<path d="M273.75,316 L273.75,380" fill="none" stroke="#28ae80" stroke-width="4.6" stroke-linejoin="miter" stroke-linecap="butt"/>
<path d="M256.25,363.0 L273.75,380.5 L291.25,363.0" fill="none" stroke="#28ae80" stroke-width="4.6" stroke-linejoin="miter" stroke-linecap="butt"/>
<path d="M523.75,182 L523.75,367" fill="none" stroke="#a5500f" stroke-width="5" stroke-linejoin="miter" stroke-linecap="butt"/>
<path d="M503.75,347.5 L523.75,367.5 L543.75,347.5" fill="none" stroke="#a5500f" stroke-width="4.6" stroke-linejoin="miter" stroke-linecap="butt"/>
<path d="M335,466.2 L365,466.2" fill="none" stroke="#28ae80" stroke-width="4.6" stroke-linejoin="miter" stroke-linecap="butt"/>
<path d="M349.5,450.2 L365.5,466.2 L349.5,482.2" fill="none" stroke="#28ae80" stroke-width="4.6" stroke-linejoin="miter" stroke-linecap="butt"/>
<path d="M585,451.3 L657,451.3" fill="none" stroke="#a5500f" stroke-width="4.6" stroke-linejoin="miter" stroke-linecap="butt"/>
<path d="M644.5,437.8 L658,451.3 L644.5,464.8" fill="none" stroke="#a5500f" stroke-width="4.6" stroke-linejoin="miter" stroke-linecap="butt"/>
<path d="M585,478.8 L657,478.8" fill="none" stroke="#28ae80" stroke-width="4.6" stroke-linejoin="miter" stroke-linecap="butt"/>
<path d="M644.5,465.3 L658,478.8 L644.5,492.3" fill="none" stroke="#28ae80" stroke-width="4.6" stroke-linejoin="miter" stroke-linecap="butt"/>
<path d="M877.5,451.3 L950,451.3" fill="none" stroke="#a5500f" stroke-width="4.6" stroke-linejoin="miter" stroke-linecap="butt"/>
<path d="M937.0,437.8 L950.5,451.3 L937.0,464.8" fill="none" stroke="#a5500f" stroke-width="4.6" stroke-linejoin="miter" stroke-linecap="butt"/>
<path d="M877.5,478.8 L950,478.8" fill="none" stroke="#28ae80" stroke-width="4.6" stroke-linejoin="miter" stroke-linecap="butt"/>
<path d="M937.0,465.3 L950.5,478.8 L937.0,492.3" fill="none" stroke="#28ae80" stroke-width="4.6" stroke-linejoin="miter" stroke-linecap="butt"/>
<path d="M1095,450.8 L1167,450.8" fill="none" stroke="#a5500f" stroke-width="4.6" stroke-linejoin="miter" stroke-linecap="butt"/>
<path d="M1154.5,437.3 L1168,450.8 L1154.5,464.3" fill="none" stroke="#a5500f" stroke-width="4.6" stroke-linejoin="miter" stroke-linecap="butt"/>
<path d="M1095,478.8 L1167,478.8" fill="none" stroke="#28ae80" stroke-width="4.6" stroke-linejoin="miter" stroke-linecap="butt"/>
<path d="M1154.5,465.3 L1168,478.8 L1154.5,492.3" fill="none" stroke="#28ae80" stroke-width="4.6" stroke-linejoin="miter" stroke-linecap="butt"/>
<path d="M526,254.5 L723.75,254.5 L723.75,366" fill="none" stroke="#a5500f" stroke-width="6" stroke-dasharray="6 6.33" stroke-dashoffset="0" stroke-linejoin="miter"/>
<path d="M706,351 L723.75,369 L741.5,351" fill="none" stroke="#a5500f" stroke-width="5.5" stroke-dasharray="5.5 5" stroke-dashoffset="0" stroke-linejoin="miter"/>
<path d="M783,368 L783,254.5 L928,254.5" fill="none" stroke="#a5500f" stroke-width="6" stroke-dasharray="6 6.33" stroke-dashoffset="0" stroke-linejoin="miter"/>
<path d="M912.5,237 L930.5,254.5 L912.5,272" fill="none" stroke="#a5500f" stroke-width="5.5" stroke-dasharray="5.5 5" stroke-dashoffset="0" stroke-linejoin="miter"/>
<path d="M873,395.75 L1013,395.75 L1013,301" fill="none" stroke="#a5500f" stroke-width="6" stroke-dasharray="6 6.33" stroke-dashoffset="0" stroke-linejoin="miter"/>
<path d="M996,316 L1013,299 L1030,316" fill="none" stroke="#a5500f" stroke-width="5.5" stroke-dasharray="5.5 5" stroke-dashoffset="0" stroke-linejoin="miter"/>
<rect x="163" y="99" width="422.00" height="80.50" rx="19" ry="19" fill="#5f6390" />
<text transform="translate(175.00,124.50) scale(0.72,1)" font-family="Liberation Sans" font-size="23.5" font-weight="bold" fill="#fff" stroke="#fff" stroke-width="0.45" textLength="195.83" lengthAdjust="spacing">The Coronor</text>
<line x1="174.5" y1="128.2" x2="316.5" y2="128.2" stroke="#fff" stroke-width="1.6" opacity="0.85"/>
<text transform="translate(175.00,147.00) scale(0.72,1)" font-family="Liberation Sans" font-size="18" font-weight="normal" fill="#fff" stroke="#fff" stroke-width="0.25" textLength="6.94" lengthAdjust="spacing">-</text>
<text transform="translate(188.75,147.00) scale(0.72,1)" font-family="Liberation Sans" font-size="18" font-weight="bold" fill="#fff" stroke="#fff" stroke-width="0.45" textLength="76.39" lengthAdjust="spacing">issues</text>
<text transform="translate(252.50,147.00) scale(0.72,1)" font-family="Liberation Sans" font-size="18" font-weight="bold" fill="#fff" stroke="#fff" stroke-width="0.45" textLength="12.15" lengthAdjust="spacing">a</text>
<text transform="translate(272.00,147.00) scale(0.72,1)" font-family="Liberation Sans" font-size="18" font-weight="bold" fill="#fff" stroke="#fff" stroke-width="0.45" textLength="143.06" lengthAdjust="spacing">&quot;Certificate</text>
<text transform="translate(386.25,147.00) scale(0.72,1)" font-family="Liberation Sans" font-size="18" font-weight="bold" fill="#fff" stroke="#fff" stroke-width="0.45" textLength="22.57" lengthAdjust="spacing">of</text>
<text transform="translate(410.00,147.00) scale(0.72,1)" font-family="Liberation Sans" font-size="18" font-weight="bold" fill="#fff" stroke="#fff" stroke-width="0.45" textLength="67.71" lengthAdjust="spacing">Order</text>
<text transform="translate(468.00,147.00) scale(0.72,1)" font-family="Liberation Sans" font-size="18" font-weight="bold" fill="#fff" stroke="#fff" stroke-width="0.45" textLength="146.88" lengthAdjust="spacing">Authorizing</text>
<text transform="translate(180.50,169.50) scale(0.72,1)" font-family="Liberation Sans" font-size="18" font-weight="bold" fill="#fff" stroke="#fff" stroke-width="0.45" textLength="82.64" lengthAdjust="spacing">Burial/</text>
<text transform="translate(253.75,169.50) scale(0.72,1)" font-family="Liberation Sans" font-size="18" font-weight="bold" fill="#fff" stroke="#fff" stroke-width="0.45" textLength="125.00" lengthAdjust="spacing">Cremation</text>
<text transform="translate(353.75,169.50) scale(0.72,1)" font-family="Liberation Sans" font-size="18" font-weight="bold" fill="#fff" stroke="#fff" stroke-width="0.45" textLength="22.57" lengthAdjust="spacing">of</text>
<text transform="translate(378.75,169.50) scale(0.72,1)" font-family="Liberation Sans" font-size="18" font-weight="bold" fill="#fff" stroke="#fff" stroke-width="0.45" textLength="72.92" lengthAdjust="spacing">Body&quot;</text>
<rect x="142.5" y="188" width="101.50" height="22.00" rx="0" ry="0" fill="#f3e2d8" />
<rect x="142.5" y="212.5" width="60.00" height="21.50" rx="0" ry="0" fill="#f3e2d8" />
<text transform="translate(145.50,205.50) scale(0.72,1)" font-family="Liberation Sans" font-size="17.5" font-weight="bold" fill="#000" stroke="#000" stroke-width="0.45" textLength="132.64" lengthAdjust="spacing">Unnatural</text>
<text transform="translate(145.50,229.50) scale(0.72,1)" font-family="Liberation Sans" font-size="17.5" font-weight="bold" fill="#000" stroke="#000" stroke-width="0.45" textLength="75.00" lengthAdjust="spacing">Death</text>
<rect x="142.5" y="320.8" width="80.50" height="23.00" rx="0" ry="0" fill="#c9f3d6" />
<rect x="142.5" y="345.5" width="62.00" height="23.30" rx="0" ry="0" fill="#c9f3d6" />
<text transform="translate(145.50,340.00) scale(0.72,1)" font-family="Liberation Sans" font-size="17.5" font-weight="bold" fill="#000" stroke="#000" stroke-width="0.45" textLength="103.47" lengthAdjust="spacing">Natural</text>
<text transform="translate(145.50,363.00) scale(0.72,1)" font-family="Liberation Sans" font-size="17.5" font-weight="bold" fill="#000" stroke="#000" stroke-width="0.45" textLength="75.00" lengthAdjust="spacing">Death</text>
<rect x="163.75" y="243" width="154.25" height="70.00" rx="35" ry="35" fill="#b4ecfd" />
<text transform="translate(174.50,272.00) scale(0.72,1)" font-family="Liberation Sans" font-size="22.5" font-weight="bold" fill="#000" stroke="#000" stroke-width="0.45" textLength="186.53" lengthAdjust="spacing">Loved ones</text>
<text transform="translate(179.50,296.00) scale(0.72,1)" font-family="Liberation Sans" font-size="22.5" font-weight="bold" fill="#000" stroke="#000" stroke-width="0.45" textLength="171.53" lengthAdjust="spacing">pass away</text>
<text transform="translate(405.00,282.50) scale(0.72,1)" font-family="Liberation Sans" font-size="20.5" font-weight="normal" fill="#000" stroke="#000" stroke-width="0.25" textLength="100.69" lengthAdjust="spacing">Opt for</text>
<text transform="translate(405.00,309.50) scale(0.72,1)" font-family="Liberation Sans" font-size="20.5" font-weight="normal" fill="#000" stroke="#000" stroke-width="0.25" textLength="145.14" lengthAdjust="spacing">Cremation</text>
<text transform="translate(545.75,241.30) scale(0.72,1)" font-family="Liberation Sans" font-size="20.5" font-weight="normal" fill="#000" stroke="#000" stroke-width="0.25" textLength="203.19" lengthAdjust="spacing">Opt for Burial</text>
<rect x="161.75" y="383" width="173.25" height="130.75" rx="18" ry="18" fill="#5f6390" />
<text transform="translate(201.00,410.00) scale(0.72,1)" font-family="Liberation Sans" font-size="22.5" font-weight="bold" fill="#fff" stroke="#fff" stroke-width="0.45" textLength="129.17" lengthAdjust="spacing">Medical</text>
<line x1="200.5" y1="413.3" x2="298" y2="413.3" stroke="#fff" stroke-width="1.6" opacity="0.85"/>
<text transform="translate(174.50,436.80) scale(0.72,1)" font-family="Liberation Sans" font-size="22.5" font-weight="bold" fill="#fff" stroke="#fff" stroke-width="0.45" textLength="202.78" lengthAdjust="spacing">Practitioner</text>
<line x1="174" y1="440" x2="321" y2="440" stroke="#fff" stroke-width="1.6" opacity="0.85"/>
<text transform="translate(165.00,457.50) scale(0.72,1)" font-family="Liberation Sans" font-size="17.5" font-weight="bold" fill="#fff" stroke="#fff" stroke-width="0.45" textLength="225.69" lengthAdjust="spacing">- issues &quot;Cause of</text>
<text transform="translate(180.00,478.80) scale(0.72,1)" font-family="Liberation Sans" font-size="17.5" font-weight="bold" fill="#fff" stroke="#fff" stroke-width="0.45" textLength="183.33" lengthAdjust="spacing">Death&quot; related</text>
<text transform="translate(180.00,500.80) scale(0.72,1)" font-family="Liberation Sans" font-size="17.5" font-weight="bold" fill="#fff" stroke="#fff" stroke-width="0.45" textLength="131.94" lengthAdjust="spacing">documents</text>
<rect x="368" y="370.5" width="217.00" height="143.25" rx="19" ry="19" fill="#5f6390" />
<rect x="376" y="389.8" width="89" height="72.4" rx="7" ry="7" fill="none" stroke="#fff" stroke-width="2" stroke-dasharray="2 2"/>
<rect x="474.8" y="389.8" width="102.2" height="72.4" rx="7" ry="7" fill="none" stroke="#fff" stroke-width="2" stroke-dasharray="2 2"/>
<text transform="translate(383.75,406.30) scale(0.72,1)" font-family="Liberation Sans" font-size="16.5" font-weight="bold" fill="#fff" stroke="#fff" stroke-width="0.45" textLength="103.19" lengthAdjust="spacing">Register</text>
<text transform="translate(408.00,428.00) scale(0.72,1)" font-family="Liberation Sans" font-size="16.5" font-weight="bold" fill="#fff" stroke="#fff" stroke-width="0.45" textLength="36.11" lengthAdjust="spacing">the</text>
<text transform="translate(395.50,450.50) scale(0.72,1)" font-family="Liberation Sans" font-size="16.5" font-weight="bold" fill="#fff" stroke="#fff" stroke-width="0.45" textLength="68.75" lengthAdjust="spacing">Death</text>
<text transform="translate(503.00,406.30) scale(0.72,1)" font-family="Liberation Sans" font-size="16.5" font-weight="bold" fill="#fff" stroke="#fff" stroke-width="0.45" textLength="68.06" lengthAdjust="spacing">Apply</text>
<text transform="translate(516.00,428.00) scale(0.72,1)" font-family="Liberation Sans" font-size="16.5" font-weight="bold" fill="#fff" stroke="#fff" stroke-width="0.45" textLength="33.33" lengthAdjust="spacing">for</text>
<text transform="translate(482.50,450.50) scale(0.72,1)" font-family="Liberation Sans" font-size="16.5" font-weight="bold" fill="#fff" stroke="#fff" stroke-width="0.45" textLength="126.81" lengthAdjust="spacing">Cremation</text>
<text transform="translate(402.00,495.50) scale(0.72,1)" font-family="Liberation Sans" font-size="22.5" font-weight="bold" fill="#fff" stroke="#fff" stroke-width="0.45" textLength="209.72" lengthAdjust="spacing">Joint Offices</text>
<line x1="401.5" y1="499" x2="553.5" y2="499" stroke="#fff" stroke-width="1.6" opacity="0.85"/>
<rect x="665" y="371.25" width="208.00" height="142.50" rx="19" ry="19" fill="#317f83" />
<text transform="translate(700.00,397.50) scale(0.72,1)" font-family="Liberation Sans" font-size="22.5" font-weight="bold" fill="#fff" stroke="#fff" stroke-width="0.45" textLength="192.78" lengthAdjust="spacing">Arrange for</text>
<line x1="699.5" y1="401.3" x2="842.5" y2="401.3" stroke="#fff" stroke-width="1.6" opacity="0.85"/>
<text transform="translate(714.25,426.30) scale(0.72,1)" font-family="Liberation Sans" font-size="22.5" font-weight="bold" fill="#fff" stroke="#fff" stroke-width="0.45" textLength="153.19" lengthAdjust="spacing">a Funeral</text>
<line x1="713.5" y1="430" x2="825" y2="430" stroke="#fff" stroke-width="1.6" opacity="0.85"/>
<text transform="translate(671.25,451.30) scale(0.72,1)" font-family="Liberation Sans" font-size="17.5" font-weight="normal" fill="#fff" stroke="#fff" stroke-width="0.25" textLength="7.64" lengthAdjust="spacing">-</text>
<text transform="translate(686.25,451.30) scale(0.72,1)" font-family="Liberation Sans" font-size="17.5" font-weight="bold" fill="#fff" stroke="#fff" stroke-width="0.45" textLength="246.53" lengthAdjust="spacing">&quot;Farewell Services&quot;</text>
<text transform="translate(686.25,473.30) scale(0.72,1)" font-family="Liberation Sans" font-size="17.5" font-weight="bold" fill="#fff" stroke="#fff" stroke-width="0.45" textLength="150.42" lengthAdjust="spacing">in Hospitals</text>
<text transform="translate(671.25,500.50) scale(0.72,1)" font-family="Liberation Sans" font-size="17.5" font-weight="normal" fill="#fff" stroke="#fff" stroke-width="0.25" textLength="7.64" lengthAdjust="spacing">-</text>
<text transform="translate(686.25,500.50) scale(0.72,1)" font-family="Liberation Sans" font-size="17.5" font-weight="bold" fill="#fff" stroke="#fff" stroke-width="0.45" textLength="244.86" lengthAdjust="spacing">In Funeral Parlours</text>
<rect x="954.25" y="208" width="136.25" height="88.25" rx="22" ry="22" fill="#398438" />
<text transform="translate(988.25,258.80) scale(0.72,1)" font-family="Liberation Sans" font-size="23" font-weight="bold" fill="#fff" stroke="#fff" stroke-width="0.45" textLength="99.72" lengthAdjust="spacing">Burial</text>
<line x1="988" y1="261.8" x2="1060.5" y2="261.8" stroke="#fff" stroke-width="1.6" opacity="0.85"/>
<rect x="954.5" y="421.75" width="135.50" height="91.25" rx="21" ry="21" fill="#398438" />
<text transform="translate(962.50,470.80) scale(0.72,1)" font-family="Liberation Sans" font-size="22.5" font-weight="bold" fill="#fff" stroke="#fff" stroke-width="0.45" textLength="166.67" lengthAdjust="spacing">Cremation</text>
<line x1="962" y1="473.8" x2="1083" y2="473.8" stroke="#fff" stroke-width="1.6" opacity="0.85"/>
<rect x="1177" y="368.75" width="467.50" height="143.25" rx="21" ry="21" fill="#beecca" />
<rect x="1187.5" y="382" width="189.25" height="118.00" rx="22" ry="22" fill="#687d2b" />
<text transform="translate(1207.50,411.30) scale(0.72,1)" font-family="Liberation Sans" font-size="22.5" font-weight="bold" fill="#fff" stroke="#fff" stroke-width="0.45" textLength="208.33" lengthAdjust="spacing">Green Burial</text>
<line x1="1207" y1="415.5" x2="1358" y2="415.5" stroke="#fff" stroke-width="1.6" opacity="0.85"/>
<text transform="translate(1203.75,439.50) scale(0.72,1)" font-family="Liberation Sans" font-size="17.5" font-weight="normal" fill="#fff" stroke="#fff" stroke-width="0.25" textLength="7.64" lengthAdjust="spacing">-</text>
<text transform="translate(1218.25,439.50) scale(0.72,1)" font-family="Liberation Sans" font-size="17.5" font-weight="bold" fill="#fff" stroke="#fff" stroke-width="0.45" textLength="137.92" lengthAdjust="spacing">Gardens of</text>
<text transform="translate(1218.25,461.80) scale(0.72,1)" font-family="Liberation Sans" font-size="17.5" font-weight="bold" fill="#fff" stroke="#fff" stroke-width="0.45" textLength="173.33" lengthAdjust="spacing">Remembrance</text>
<text transform="translate(1203.75,489.50) scale(0.72,1)" font-family="Liberation Sans" font-size="17.5" font-weight="normal" fill="#fff" stroke="#fff" stroke-width="0.25" textLength="7.64" lengthAdjust="spacing">-</text>
<text transform="translate(1218.25,489.50) scale(0.72,1)" font-family="Liberation Sans" font-size="17.5" font-weight="bold" fill="#fff" stroke="#fff" stroke-width="0.45" textLength="76.11" lengthAdjust="spacing">At Sea</text>
<rect x="1386.25" y="423" width="46.75" height="37.00" rx="0" ry="0" fill="#daf4e2" />
<text transform="translate(1393.75,450.00) scale(0.72,1)" font-family="Liberation Sans" font-size="24.5" font-weight="normal" fill="#000" stroke="#000" stroke-width="0.25" textLength="43.47" lengthAdjust="spacing">OR</text>
<rect x="1442.5" y="382" width="188.75" height="118.00" rx="22" ry="22" fill="#ad6062" />
<text transform="translate(1494.25,448.80) scale(0.72,1)" font-family="Liberation Sans" font-size="22.5" font-weight="bold" fill="#fff" stroke="#fff" stroke-width="0.45" textLength="110.42" lengthAdjust="spacing">Niches</text>
<line x1="1493.5" y1="452" x2="1574" y2="452" stroke="#fff" stroke-width="1.6" opacity="0.85"/>
<g fill="none" stroke="#5f6390" stroke-width="2.9"><path d="M161.85,586 H586.2" stroke-dasharray="9.1 6.278"/><path d="M163.3,540 V580" stroke-dasharray="8.7 6.75"/><path d="M583.66,532 V587.4" stroke-dasharray="8.7 6.75"/></g>
<rect x="303.75" y="609.25" width="107.50" height="58.25" rx="28" ry="28" fill="#5f6390" />
<text transform="translate(319.50,645.00) scale(0.72,1)" font-family="Liberation Sans" font-size="26.5" font-weight="bold" fill="#fff" stroke="#fff" stroke-width="0.45" textLength="108.33" lengthAdjust="spacing">Step 1</text>
<rect x="718" y="609.25" width="109.00" height="57.00" rx="28" ry="28" fill="#317f83" />
<text transform="translate(733.75,645.00) scale(0.72,1)" font-family="Liberation Sans" font-size="26.5" font-weight="bold" fill="#fff" stroke="#fff" stroke-width="0.45" textLength="109.38" lengthAdjust="spacing">Step 2</text>
<rect x="972" y="609.25" width="109.25" height="57.00" rx="28" ry="28" fill="#398438" />
<text transform="translate(987.50,645.00) scale(0.72,1)" font-family="Liberation Sans" font-size="26.5" font-weight="bold" fill="#fff" stroke="#fff" stroke-width="0.45" textLength="108.68" lengthAdjust="spacing">Step 3</text>
<rect x="1227" y="609.25" width="109.25" height="57.00" rx="28" ry="28" fill="#687d2b" />
<text transform="translate(1242.50,645.00) scale(0.72,1)" font-family="Liberation Sans" font-size="26.5" font-weight="bold" fill="#fff" stroke="#fff" stroke-width="0.45" textLength="110.42" lengthAdjust="spacing">Step 4</text>
<rect x="1485.5" y="609.25" width="110.25" height="58.25" rx="28" ry="28" fill="#ad6062" />
<text transform="translate(1501.25,645.00) scale(0.72,1)" font-family="Liberation Sans" font-size="26.5" font-weight="bold" fill="#fff" stroke="#fff" stroke-width="0.45" textLength="110.42" lengthAdjust="spacing">Step 4</text>
<g transform="translate(366,28) scale(0.10283)" fill="none" stroke="#2a6a82" stroke-width="11.18" stroke-linecap="round" stroke-linejoin="round">
<rect x="110" y="78" width="420" height="567"/>
<path d="M158,185H482M158,222H482M158,260H482M158,297H482M158,365H415M158,432H355" stroke-width="13"/>
<circle cx="215" cy="540" r="20"/>
<path d="M258.0,540.0 L269.6,546.2 L267.3,557.0 L254.1,557.8 L249.8,565.3 L255.6,577.1 L247.3,584.5 L236.2,577.4 L228.3,580.9 L226.0,593.9 L215.0,595.0 L210.1,582.7 L201.7,580.9 L192.2,590.1 L182.7,584.5 L186.0,571.7 L180.2,565.3 L167.1,567.1 L162.7,557.0 L172.9,548.6 L172.0,540.0 L160.4,533.8 L162.7,523.0 L175.9,522.2 L180.2,514.7 L174.4,502.9 L182.7,495.5 L193.8,502.6 L201.7,499.1 L204.0,486.1 L215.0,485.0 L219.9,497.3 L228.3,499.1 L237.8,489.9 L247.3,495.5 L244.0,508.3 L249.8,514.7 L262.9,512.9 L267.3,523.0 L257.1,531.4 Z"/>
<g transform="translate(497,415) rotate(-47)" fill="#f9f9f9">
  <rect x="-20" y="40" width="40" height="200" rx="20"/>
  <rect x="-62" y="-42" width="124" height="84"/>
  <rect x="-115" y="-68" width="54" height="136" rx="24"/>
  <rect x="61" y="-68" width="54" height="136" rx="24"/>
</g>
</g>
<g transform="translate(214,518) scale(0.09709)" fill="none" stroke="#2a6e84" stroke-width="9.79" stroke-linecap="round" stroke-linejoin="round">
<path d="M247,232 C235,120 290,60 357,60 C425,60 480,120 468,205"/>
<path d="M250,228 C262,195 290,178 318,176 C340,186 365,186 385,176 C420,168 450,180 466,205 C470,225 470,240 468,250"/>
<path d="M247,232 C232,240 228,265 240,285 C250,300 262,300 268,305 C285,340 320,362 357,362 C395,362 430,340 446,305 C455,300 468,298 476,285 C488,262 482,245 468,240"/>
<path d="M295,340 V400 M425,350 V395"/>
<path d="M295,400 L315,480 L355,440 L405,480 L425,395"/>
<path d="M355,440 V630"/>
<path d="M295,392 L190,440 M150,462 C110,490 90,530 90,570 V610 C90,622 98,630 110,630 H600 C615,630 625,622 625,610 V570 C625,500 560,455 500,430 L425,392"/>
<path d="M245,412 V508"/><circle cx="243" cy="540" r="30"/>
<path d="M500,432 V500 M470,580 H462 C460,540 475,502 500,500 C525,502 540,540 536,580 H528"/>
</g>
<g transform="translate(442,518) scale(0.09709)" fill="none" stroke="#1f6577" stroke-width="10.30" stroke-linecap="round" stroke-linejoin="round">
<rect x="130" y="365" width="495" height="40" rx="4"/>
<path d="M180,405 V635 H575 V405 M195,405 V570 M560,405 V570 M180,570 H575 M180,635 L240,575 H515 L575,635"/>
<rect x="108" y="170" width="210" height="150" rx="10"/>
<path d="M108,285 H318 M205,320 V335 M232,320 V335"/>
<path d="M170,355 C175,335 255,335 262,355 Z"/>
<path d="M275,150 V90 C275,78 283,70 295,70 H395 C407,70 415,78 415,90 V112 C415,124 407,132 395,132 H300 Z"/>
<path d="M305,100 H318 M340,100 H353 M375,100 H388" stroke-width="13"/>
<path d="M335,362 V300 C335,280 350,268 365,262"/><circle cx="373" cy="256" r="13"/>
<ellipse cx="500" cy="180" rx="48" ry="56"/>
<path d="M440,125 C450,100 480,92 505,95 C530,90 552,100 548,125 C556,140 556,160 550,175 M452,165 C465,150 470,135 470,125 C495,140 525,140 548,125"/>
<path d="M405,362 V305 C405,270 440,250 470,240 L500,312 L530,240 C560,250 595,270 595,305 V362"/>
<path d="M440,312 V362 M555,312 V362"/>
</g>
<g transform="translate(734,518) scale(0.09709)" fill="none" stroke="#25647c" stroke-width="13.39" stroke-linecap="round" stroke-linejoin="round">
<path d="M175,180 H550 L540,347 H190 Z"/>
<rect x="210" y="212" width="305" height="108"/>
<circle cx="278" cy="263" r="15"/><circle cx="440" cy="263" r="15"/><path d="M293,263 H425"/>
<rect x="95" y="350" width="530" height="36" rx="18"/>
<ellipse cx="44" cy="0" rx="30" ry="13" transform="translate(275,182) rotate(-90)"/><ellipse cx="44" cy="0" rx="30" ry="13" transform="translate(275,182) rotate(-50)"/><ellipse cx="44" cy="0" rx="30" ry="13" transform="translate(275,182) rotate(-130)"/><ellipse cx="44" cy="0" rx="30" ry="13" transform="translate(275,182) rotate(-15)"/><ellipse cx="44" cy="0" rx="30" ry="13" transform="translate(275,182) rotate(-165)"/>
<ellipse cx="44" cy="0" rx="30" ry="13" transform="translate(445,182) rotate(-90)"/><ellipse cx="44" cy="0" rx="30" ry="13" transform="translate(445,182) rotate(-50)"/><ellipse cx="44" cy="0" rx="30" ry="13" transform="translate(445,182) rotate(-130)"/><ellipse cx="44" cy="0" rx="30" ry="13" transform="translate(445,182) rotate(-15)"/><ellipse cx="44" cy="0" rx="30" ry="13" transform="translate(445,182) rotate(-165)"/>
<g id="pp"><circle cx="180" cy="445" r="32"/><path d="M97,630 V520 C97,495 115,482 140,480 H220 C245,482 262,495 262,520 V630 Z M125,500 V630 M235,500 V630"/></g>
<g transform="translate(181,0)"><circle cx="180" cy="445" r="32"/><path d="M97,630 V520 C97,495 115,482 140,480 H220 C245,482 262,495 262,520 V630 Z M125,500 V630 M235,500 V630"/></g>
<g transform="translate(364,0)"><circle cx="180" cy="445" r="32"/><path d="M97,630 V520 C97,495 115,482 140,480 H220 C245,482 262,495 262,520 V630 Z M125,500 V630 M235,500 V630"/></g>
</g>
<g transform="translate(988,518) scale(0.09709)" fill="none" stroke="#25647c" stroke-width="12.36" stroke-linecap="round" stroke-linejoin="round">
<path d="M198,135 V95 C198,80 208,72 222,72 H485 C500,72 508,80 508,95 V135 M235,72 V135 M470,72 V135"/>
<path d="M155,190 V160 C155,145 165,135 180,135 H525 C540,135 550,145 550,160 V190"/>
<rect x="108" y="190" width="487" height="50" rx="25"/>
<path d="M155,240 V560 M548,240 V560"/>
<path d="M208,560 V350 C208,320 230,300 258,300 H445 C475,300 495,320 495,350 V560"/>
<path d="M352,385 C335,415 335,430 322,455 C318,440 312,430 305,425 C280,470 290,520 350,530 C410,525 425,470 385,430 C375,450 368,455 362,455 C372,430 365,405 352,385 Z"/>
<path d="M290,555 L315,535 L340,555 M365,555 L390,535 L415,555"/>
<path d="M125,562 C100,575 88,600 90,620 C92,632 100,636 110,636 H180 C230,625 280,595 350,595 C420,595 470,625 520,636 H598 C608,636 615,630 616,620 C618,600 605,575 580,562 Z"/>
</g>
<g transform="translate(1088,212) scale(0.10288)" fill="none" stroke="#2f6a8a" stroke-width="12.64" stroke-linecap="round" stroke-linejoin="round">
<path d="M200,477 V245 C200,150 275,78 370,78 C465,78 540,150 540,245 V477"/>
<path d="M285,180 H448 M240,252 H495 M313,350 V477 M423,350 V477"/>
<path d="M145,540 V515 C145,492 160,478 185,478 H545 C570,478 585,492 585,515 V540"/>
<path d="M72,610 V575 C72,552 88,540 110,540 H622 C645,540 660,552 660,575 V610 Z"/>
</g>
<g transform="translate(1220,516) scale(0.10000)" fill="none" stroke="#1f5f78" stroke-width="18.00" stroke-linecap="round" stroke-linejoin="round">
<path d="M540,572 L480,532 C330,572 130,520 80,300 C68,200 72,142 100,140 C250,140 420,250 465,440 L482,532"/>
<path d="M235,305 C280,400 380,490 480,536"/>
<path d="M360,222 C380,140 430,88 460,82 C525,110 560,200 530,320 C515,370 492,400 468,422"/>
<path d="M452,182 C440,250 428,300 440,335"/>
<path d="M635,342 H1250 M635,342 L640,420 C645,490 690,528 720,535 M1250,342 C1230,430 1180,510 1130,532"/>
<path d="M765,342 V300 C765,255 800,236 830,236 H1122"/>
<path d="M940,80 V236 M895,118 H1060 C1095,120 1108,150 1120,190 L1165,342"/>
<path d="M852,293 H868 M922,293 H938 M992,293 H1008 M1067,293 H1083 M992,180 H1006 M1036,180 H1050" stroke-width="18" stroke-linecap="butt"/>
<path d="M632,530 C660,515 690,545 720,545 C750,545 770,520 800,525 C830,530 850,548 880,545 C910,542 930,520 960,525 C990,530 1010,548 1040,545 C1070,542 1090,520 1120,525 C1150,530 1170,548 1200,542 C1220,538 1235,528 1252,528"/>
<path d="M735,625 C760,600 790,610 815,620 C845,632 870,625 895,612 C925,600 950,612 975,622 C1005,632 1030,625 1055,612 C1085,600 1115,612 1152,610"/>
</g>
<g fill="none" stroke="#25637d" stroke-width="1.4" stroke-linejoin="round"><path d="M1523.75,524 H1550 L1563,548.75 L1554.5,578.5 H1518.75 L1510.5,548.75 Z"/><circle cx="1536.75" cy="545.5" r="11.8"/></g>
<path d="M1517.5,578.9 C1518,566 1526,557.3 1536.75,557.3 C1547.5,557.3 1555,566 1555.5,578.9 Z" fill="#25637d"/>
<g transform="translate(1250,8) scale(0.08569)" fill="none" stroke="#3f3f3f" stroke-width="21.01" stroke-linecap="round" stroke-linejoin="round">
<path d="M305,138 A205,205 0 1 1 262,185"/>
<path d="M545,398 A150,150 0 1 0 515,425"/>
<circle cx="432" cy="232" r="12" fill="#3f3f3f" stroke="none"/>
<path d="M432,287 V375" stroke-width="24"/>
<path d="M287,447 L262,472"/>
<g transform="translate(197,540) rotate(-43.5)"><rect x="-95" y="-38" width="190" height="76" rx="38"/></g>
</g>
</svg>
</body></html>
